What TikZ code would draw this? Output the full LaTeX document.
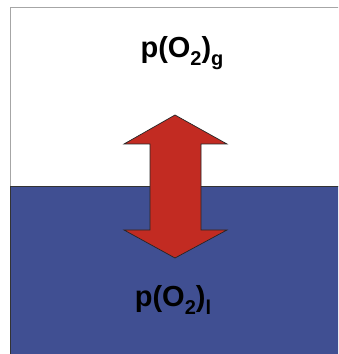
\documentclass[tikz,border=0pt]{standalone}
\usepackage{fontspec}
\setmainfont{Liberation Sans}
\definecolor{water}{HTML}{404F92}
\definecolor{arrowred}{HTML}{C22B22}
\newcommand\mysub[1]{\raisebox{-0.28em}{\fontsize{20}{20}\selectfont #1}}
\tikzset{
  lbl/.style={font=\fontsize{29}{29}\selectfont\bfseries, inner sep=0pt, text=black},
}
\begin{document}
\begin{tikzpicture}[x=1pt,y=1pt]
\useasboundingbox (0,0) rectangle (338,354);
\clip (0,0) rectangle (338,354);
% gas region
\fill[white] (0,0) rectangle (338,354);
\draw[gray!70, line width=0.8pt] (10,-5) -- (10,347) -- (345,347);
% water region
\fill[water] (10,-5) rectangle (345,168);
\draw[black!80, line width=0.9pt] (10,-5) -- (10,168) -- (345,168);
% double arrow
\draw[fill=arrowred, draw=black!85, line width=0.7pt, line join=miter]
  (175,239) -- (227,210) -- (201,210) -- (201,124) -- (227,124) -- (175,96)
  -- (124,124) -- (150,124) -- (150,210) -- (124,210) -- cycle;
% labels
\node[lbl] (gas) at (182,301) {p(O\mysub{2})\mysub{g}};
\node[lbl] (liq) at (173,54) {p(O\mysub{2})\mysub{l}};
\end{tikzpicture}
\end{document}
